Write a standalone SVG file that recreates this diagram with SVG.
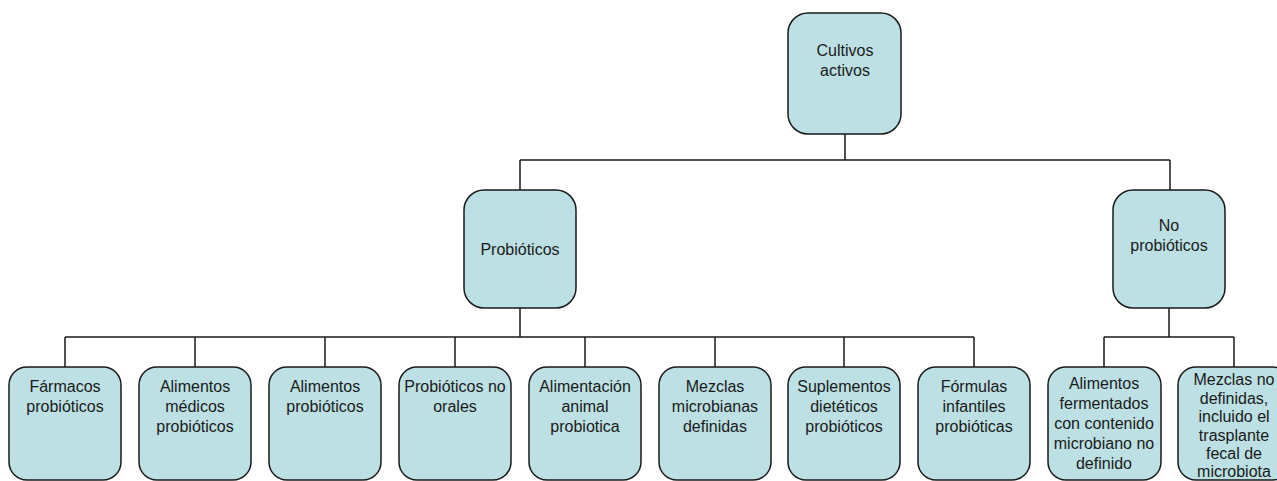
<svg xmlns="http://www.w3.org/2000/svg" width="1277" height="481" viewBox="0 0 1277 481">
<style>
.box{fill:#bce0e3;stroke:#1a1a1a;stroke-width:1.5}
.t{font-family:"Liberation Sans",Arial,sans-serif;font-size:16px;fill:#1a1a1a;text-anchor:middle}
.c{stroke:#1a1a1a;stroke-width:1.5;fill:none}
</style>
<rect width="1277" height="481" fill="#ffffff"/>
<g id="connectors">
<path class="c" d="M845 134V160M520 160H1170M520 160V190M1170 160V190"/>
<path class="c" d="M520 308V337M65 337H974M65 337V367M195 337V367M325 337V367M455 337V367M585 337V367M715 337V367M844 337V367M974 337V367"/>
<path class="c" d="M1169 308V337M1104 337H1234M1104 337V367M1234 337V367"/>
</g>
<g id="root"><rect class="box" x="788" y="13" width="113" height="121" rx="20"/>
<text class="t" x="845" y="56">Cultivos</text><text class="t" x="845" y="76">activos</text></g>
<g id="probioticos"><rect class="box" x="464" y="190" width="112" height="118" rx="20"/>
<text class="t" x="520" y="255">Probióticos</text></g>
<g id="no-probioticos"><rect class="box" x="1113" y="190" width="112" height="118" rx="20"/>
<text class="t" x="1169" y="231">No</text><text class="t" x="1169" y="251">probióticos</text></g>
<g id="farmacos"><rect class="box" x="9" y="367" width="112" height="113" rx="18"/>
<text class="t" x="65" y="392">Fármacos</text><text class="t" x="65" y="412">probióticos</text></g>
<g id="alimentos-medicos"><rect class="box" x="139" y="367" width="112" height="113" rx="18"/>
<text class="t" x="195" y="392">Alimentos</text><text class="t" x="195" y="412">médicos</text><text class="t" x="195" y="432">probióticos</text></g>
<g id="alimentos-probioticos"><rect class="box" x="269" y="367" width="112" height="113" rx="18"/>
<text class="t" x="325" y="392">Alimentos</text><text class="t" x="325" y="412">probióticos</text></g>
<g id="no-orales"><rect class="box" x="399" y="367" width="112" height="113" rx="18"/>
<text class="t" x="455" y="392">Probióticos no</text><text class="t" x="455" y="412">orales</text></g>
<g id="alimentacion-animal"><rect class="box" x="529" y="367" width="112" height="113" rx="18"/>
<text class="t" x="585" y="392">Alimentación</text><text class="t" x="585" y="412">animal</text><text class="t" x="585" y="432">probiotica</text></g>
<g id="mezclas-definidas"><rect class="box" x="659" y="367" width="112" height="113" rx="18"/>
<text class="t" x="715" y="392">Mezclas</text><text class="t" x="715" y="412">microbianas</text><text class="t" x="715" y="432">definidas</text></g>
<g id="suplementos"><rect class="box" x="788" y="367" width="112" height="113" rx="18"/>
<text class="t" x="844" y="392">Suplementos</text><text class="t" x="844" y="412">dietéticos</text><text class="t" x="844" y="432">probióticos</text></g>
<g id="formulas"><rect class="box" x="918" y="367" width="112" height="113" rx="18"/>
<text class="t" x="974" y="392">Fórmulas</text><text class="t" x="974" y="412">infantiles</text><text class="t" x="974" y="432">probióticas</text></g>
<g id="fermentados"><rect class="box" x="1048" y="367" width="113" height="113" rx="18"/>
<text class="t" x="1104" y="389">Alimentos</text><text class="t" x="1104" y="409">fermentados</text><text class="t" x="1104" y="429">con contenido</text><text class="t" x="1104" y="449">microbiano no</text><text class="t" x="1104" y="469">definido</text></g>
<g id="mezclas-no-definidas"><rect class="box" x="1178" y="367" width="113" height="113" rx="18"/>
<text class="t" x="1234" y="385">Mezclas no</text><text class="t" x="1234" y="403.5">definidas,</text><text class="t" x="1234" y="422">incluido el</text><text class="t" x="1234" y="440.5">trasplante</text><text class="t" x="1234" y="459">fecal de</text><text class="t" x="1234" y="477">microbiota</text></g>
</svg>
